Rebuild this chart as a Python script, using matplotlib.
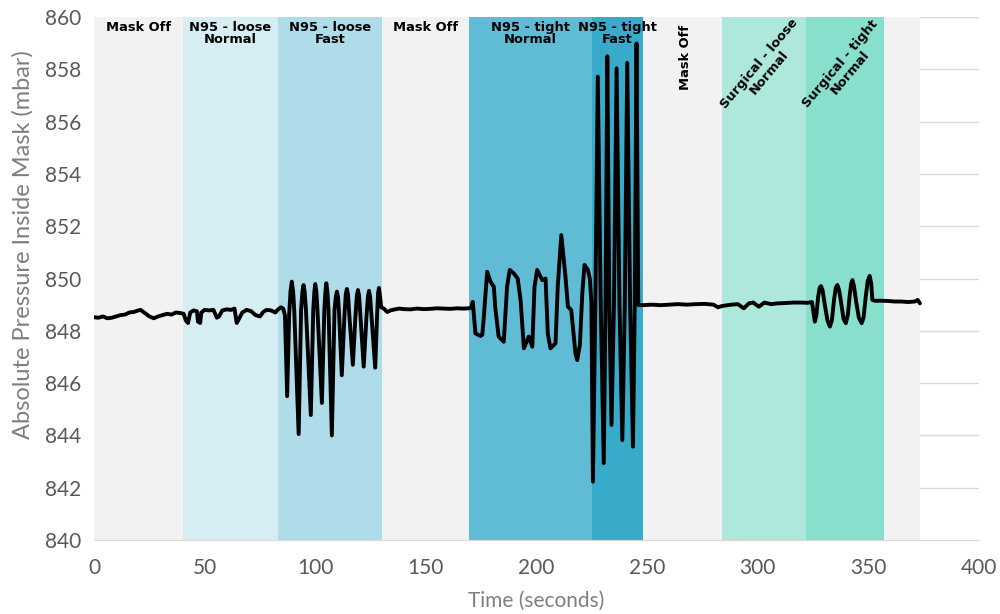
import matplotlib
matplotlib.use("Agg")
import matplotlib.pyplot as plt
import numpy as np

# Tramos del ensayo (inicio, fin, color, etiqueta)
tramo_inicio = [0, 40, 83, 130, 169.5, 225, 248, 284, 322, 357]
tramo_fin = [40, 83, 130, 169.5, 225, 248, 284, 322, 357, 373.5]
tramo_color = ['#f2f2f2', '#d6edf4', '#afdce9', '#f2f2f2', '#60bbd4',
               '#38abca', '#f2f2f2', '#aee8dc', '#88dfcd', '#f2f2f2']
tramo_texto = ['Mask Off', 'N95 - loose\nNormal', 'N95 - loose\nFast', 'Mask Off',
               'N95 - tight\nNormal', 'N95 - tight\nFast', 'Mask Off',
               'Surgical - loose\nNormal', 'Surgical - tight\nNormal', '']
tramo_rot = [0, 0, 0, 0, 0, 0, 90, 50, 50, 0]

t_off1 = [0, 2, 4, 6, 8, 10, 12, 14, 16, 18, 20, 21, 23, 25, 27, 29, 31, 33, 35, 37, 39]
p_off1 = [848.52, 848.5, 848.55, 848.48, 848.5, 848.55, 848.6, 848.62, 848.7, 848.72, 848.78,
          848.8, 848.68, 848.55, 848.48, 848.55, 848.6, 848.65, 848.62, 848.7, 848.68]

t_n95_ln = [40.5, 41.5, 42.5, 43.5, 45, 46.5, 47, 48, 48.5, 50, 52, 54, 55.5, 56.5, 58, 60, 62,
            63.5, 64.5, 65.5, 67, 69, 71, 73, 75, 76.5, 78, 80, 82]
p_n95_ln = [848.65, 848.4, 848.3, 848.7, 848.78, 848.75, 848.35, 848.3, 848.7, 848.8, 848.78,
            848.8, 848.5, 848.55, 848.78, 848.82, 848.8, 848.85, 848.3, 848.45, 848.7, 848.8,
            848.75, 848.6, 848.55, 848.72, 848.8, 848.78, 848.7]

t_n95_lf = [83, 84.5, 85.5, 86.3, 87.3, 88.2, 88.8, 89.4, 90.0, 90.5, 92.5, 93.6, 94.2, 94.7,
            95.2, 95.8, 98, 99.1, 99.6, 100, 100.5, 101, 103, 104.1, 104.6, 105, 105.5, 106,
            107.5, 108.7, 109.3, 109.8, 110.3, 110.8, 112, 113.2, 113.8, 114.3, 114.8, 115.4,
            117, 118.2, 118.8, 119.3, 119.8, 120.4, 121.9, 123.2, 123.8, 124.3, 124.8, 125.4,
            127.1, 128.0, 128.4, 128.8, 129.3, 129.8, 131]
p_n95_lf = [848.8, 848.9, 848.85, 848.6, 845.5, 848.6, 849.5, 849.88, 849.5, 848.8, 844.05,
            848.8, 849.5, 849.75, 849.5, 848.8, 844.78, 848.8, 849.5, 849.79, 849.5, 848.8,
            845.24, 848.8, 849.5, 849.82, 849.5, 848.8, 844.0, 848.8, 849.3, 849.5, 849.3,
            848.6, 846.3, 848.6, 849.4, 849.6, 849.4, 848.6, 846.7, 848.6, 849.35, 849.56,
            849.35, 848.6, 846.63, 848.6, 849.3, 849.53, 849.3, 848.6, 846.59, 848.7, 849.45,
            849.64, 849.3, 848.9, 848.85]

t_off2 = [132.5, 134, 136, 138, 140, 143, 146, 149, 152, 155, 158, 161, 164, 167, 169.5]
p_off2 = [848.72, 848.78, 848.82, 848.85, 848.83, 848.82, 848.85, 848.83, 848.84,
          848.86, 848.85, 848.84, 848.86, 848.85, 848.86]

t_n95_tn = [170.5, 171.2, 172.4, 174.7, 175.5, 176.2, 177.7, 179.2, 180.7, 181.4, 182.9, 185.2,
            186.7, 187.9, 189.7, 191.5, 192.8, 194.3, 196.5, 198.1, 199.1, 200.3, 202.6, 204.1,
            205.1, 206.3, 208.6, 209.6, 211.2, 213.1, 214.2, 215.7, 217.6, 218.4, 219.6, 220.7,
            221.7, 223.2, 224.1, 224.8]
p_n95_tn = [848.9, 849.11, 847.9, 847.8, 847.85, 848.54, 850.26, 849.88, 849.69, 848.86, 847.78,
            847.58, 849.69, 850.33, 850.2, 850.0, 849.18, 847.33, 847.78, 847.39, 849.69, 850.33,
            849.94, 850.0, 847.9, 847.33, 847.52, 849.69, 851.66, 850.07, 848.92, 848.8, 847.14,
            846.88, 847.46, 849.43, 850.52, 850.33, 850.0, 849.1]

t_n95_tf = [225.5, 226.6, 227.7, 229, 230.4, 231.2, 232.0, 232.9, 233.9, 235, 236.2, 237.5,
            238.8, 239.9, 241.0, 242.3, 243.6, 244.4, 245.2, 246.0]
p_n95_tf = [842.23, 849.0, 857.72, 849.2, 842.94, 849.0, 858.5, 849.1, 844.4, 849.0, 858.04,
            849.0, 843.82, 849.0, 858.25, 849.0, 843.57, 849.0, 858.99, 848.99]

t_off3 = [248, 252, 256, 260, 264, 268, 272, 276, 280, 282, 284, 288, 291, 293.7, 296, 298,
          300.5, 303, 306, 309, 312, 316, 320, 322.5]
p_off3 = [848.98, 849.0, 848.98, 849.0, 849.02, 849.0, 849.02, 849.03, 849.0, 848.9, 848.95,
          849.0, 849.02, 848.86, 849.05, 849.08, 848.92, 849.08, 849.02, 849.05, 849.06, 849.08,
          849.08, 849.07]

t_surg = [324.5, 325.2, 325.8, 326.5, 327.3, 328.0, 328.6, 329.3, 330.3, 331.5, 332.6, 333.5,
          334.5, 335.3, 336, 336.8, 337.8, 338.8, 339.8, 340.7, 341.5, 342.2, 342.8, 343.5,
          344.5, 345.7, 347, 347.8, 348.8, 349.7, 350.6, 351.3, 351.8, 353, 356, 359, 362,
          365, 368, 371, 372.3, 373.3]
p_surg = [849.1, 848.7, 848.35, 848.6, 849.3, 849.65, 849.71, 849.55, 849.0, 848.4, 848.16,
          848.4, 849.2, 849.65, 849.75, 849.55, 849.0, 848.45, 848.29, 848.6, 849.3, 849.8,
          849.94, 849.7, 849.1, 848.5, 848.29, 848.5, 849.3, 849.9, 850.1, 849.8, 849.18,
          849.15, 849.15, 849.14, 849.12, 849.12, 849.1, 849.12, 849.18, 849.05]

tiempo = t_off1 + t_n95_ln + t_n95_lf + t_off2 + t_n95_tn + t_n95_tf + t_off3 + t_surg
presion = p_off1 + p_n95_ln + p_n95_lf + p_off2 + p_n95_tn + p_n95_tf + p_off3 + p_surg

fuente_ejes = ['Lato', 'DejaVu Sans']

fig = plt.figure(figsize=(10, 6.14), dpi=100)
ax = fig.add_axes([0.094, 0.1205, 0.885, 0.8518])

# Bandas de fondo
for ini, fin, col in zip(tramo_inicio, tramo_fin, tramo_color):
    ax.axvspan(ini, fin, color=col, lw=0, zorder=1)

ax.plot(tiempo, presion, color='black', lw=2.8, zorder=3,
        solid_joinstyle='round', solid_capstyle='round')

# Etiquetas de cada tramo
for ini, fin, txt, rot in zip(tramo_inicio, tramo_fin, tramo_texto, tramo_rot):
    xc = (ini + fin) / 2
    if rot == 0:
        ax.text(xc, 859.85, txt, ha='center', va='top', fontsize=9.4,
                fontweight='bold', linespacing=0.95, zorder=4)
    elif rot == 90:
        ax.text(xc + 1.5, 859.7, txt, ha='center', va='top', rotation=90,
                fontsize=9.4, fontweight='bold', zorder=4)
    else:
        ax.text(xc, 858.05, txt, ha='center', va='center', rotation=rot,
                fontsize=9.4, fontweight='bold', linespacing=0.95, zorder=4,
                rotation_mode='anchor')

ax.set_xlim(0, 400)
ax.set_ylim(840, 860)
ax.set_xticks(np.arange(0, 401, 50))
ax.set_yticks(np.arange(840, 861, 2))
ax.yaxis.grid(True, color='#d9d9d9', lw=1, zorder=0)
ax.set_axisbelow(True)
ax.tick_params(length=0, labelsize=15, colors='#595959')
ax.tick_params(axis='x', pad=13)
ax.tick_params(axis='y', pad=9)
for lab in ax.get_xticklabels() + ax.get_yticklabels():
    lab.set_family(fuente_ejes)
for s in ['top', 'right', 'left']:
    ax.spines[s].set_visible(False)
ax.spines['bottom'].set_color('#d9d9d9')

ax.set_xlabel('Time (seconds)', fontsize=15, color='#7f7f7f', family=fuente_ejes, labelpad=9)
ax.set_ylabel('Absolute Pressure Inside Mask (mbar)', fontsize=17, color='#7f7f7f',
              family=fuente_ejes)
ax.yaxis.set_label_coords(-0.068, 0.565)

plt.savefig('out.png', dpi=100)
